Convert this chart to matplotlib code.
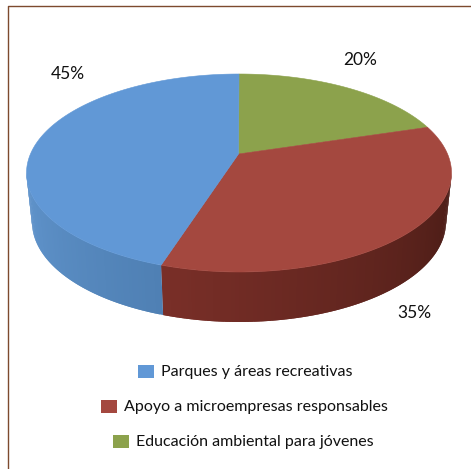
#!/usr/bin/env python3
"""pie: fondos por destino, 3D look drawn by hand on pixel axes"""

import matplotlib

matplotlib.use("Agg")
import matplotlib.pyplot as plt
import numpy as np
from matplotlib.colors import to_rgb
from matplotlib.patches import Polygon, Rectangle

plt.rcParams["font.family"] = ["Lato", "DejaVu Sans"]

# clockwise from 12 o'clock
category = ["Educación ambiental para jóvenes", "Apoyo a microempresas responsables", "Parques y áreas recreativas"]
label = ["20%", "35%", "45%"]
# printed labels do not match the slices in the picture, sweeps are read off the rim
sweep = [62.5, 139.0, 158.5]
top_colour = ["#8ca24c", "#a4483f", "#6198d6"]
side_near = ["#6f8038", "#7a2f28", "#4f80b4"]
side_far = ["#6f8038", "#4a1c16", "#6195cd"]

legend_order = [2, 1, 0]
legend_x = [138, 101, 113]
legend_y = [372, 407, 442]
label_x = [360, 414, 68]
label_y = [60, 313, 74]

VERTEX = (238.5, 154.0)
TOP = (239.0, 173.0, 212.5, 99.0)
BOTTOM = (239.0, 222.0, 207.0, 100.0)


def rim(ellipse, t):
    """rim: point on ellipse, t in degrees clockwise from top"""
    cx, cy, rx, ry = ellipse
    r = np.radians(t)
    return np.column_stack([cx + rx * np.sin(r), cy - ry * np.cos(r)])


def mix(a, b, f):
    """mix: blend two colours"""
    a, b = np.array(to_rgb(a)), np.array(to_rgb(b))
    return tuple(a + (b - a) * f)


def main():
    """main: execution block"""
    fig = plt.figure(figsize=(4.71, 4.69), dpi=100.0)
    ax = fig.add_axes([0, 0, 1, 1])
    ax.set_xlim(0, 471)
    ax.set_ylim(469, 0)
    ax.axis("off")

    # frame is open on the right and bottom sides of the image
    ax.plot([7.5, 7.5, 471], [469, 6.5, 6.5], color="#7d4a2e", lw=1.0, zorder=1)

    edge = np.cumsum([0.0] + sweep)

    # side wall, only the part that faces the viewer
    for i, (start, stop) in enumerate(zip(edge[:-1], edge[1:])):
        lo, hi = max(start, 90.0), min(stop, 270.0)
        if lo >= hi:
            continue
        # one quad per degree, each painted over the end of the last so no seams show
        for a in np.arange(lo, hi, 1.0):
            f = abs(a - 201.5) / (hi - lo)
            c = mix(side_near[i], side_far[i], f)
            t = [a, min(a + 2.0, hi)]
            xy = np.vstack([rim(TOP, t), rim(BOTTOM, t[::-1])])
            ax.add_patch(Polygon(xy, fc=c, ec="none", zorder=2))

    # top face
    for i, (start, stop) in enumerate(zip(edge[:-1], edge[1:])):
        xy = np.vstack([[VERTEX], rim(TOP, np.linspace(start, stop, 200))])
        ax.add_patch(Polygon(xy, fc=top_colour[i], ec=top_colour[i], lw=0.4, zorder=3))

    for x, y, s in zip(label_x, label_y, label):
        ax.text(x, y, s, ha="center", va="center", fontsize=12.5, color="#111111")

    for i, x, y in zip(legend_order, legend_x, legend_y):
        ax.add_patch(Rectangle((x, y - 6.5), 16, 13, fc=top_colour[i], ec="none"))
        ax.text(x + 23, y, category[i], ha="left", va="center", fontsize=11.5, color="#111111")

    plt.savefig("out.png", dpi=100.0)
    plt.close()


if __name__ == "__main__":
    main()
